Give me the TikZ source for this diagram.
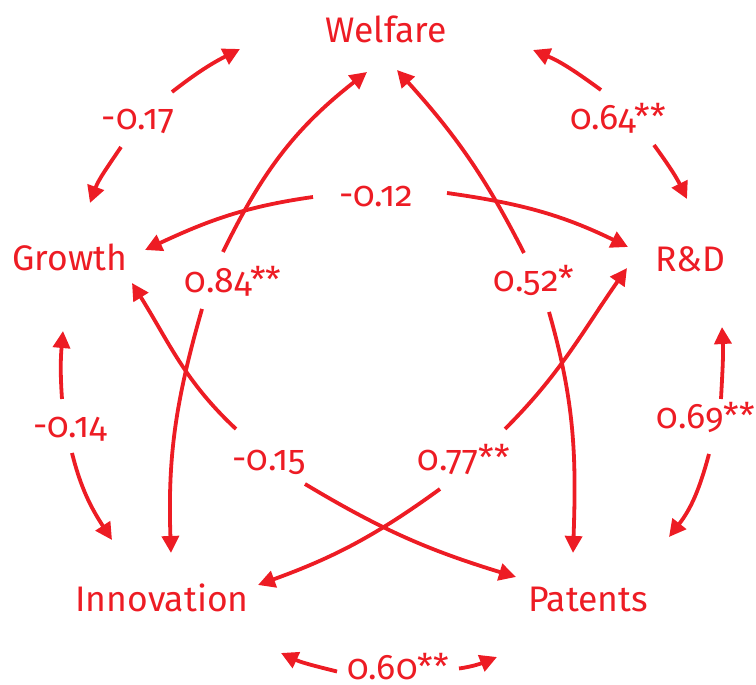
\documentclass[tikz,border=0pt]{standalone}
\usepackage{fontspec}
\setmainfont{Fira Sans}[Numbers=OldStyle]
\usetikzlibrary{arrows.meta}
\definecolor{redA}{HTML}{ED1C24}
\begin{document}
\begin{tikzpicture}[x=1pt,y=1pt,
  txt/.style={text=redA, font=\fontsize{35.5}{38}\selectfont, inner sep=0pt, anchor=base},
  lnk/.style={draw=redA, line width=3.8pt, -{Triangle[length=17pt,width=17pt]}},
]
\useasboundingbox (0,0) rectangle (756,685);
% variables
\node[txt] (W) at (386,642) {Welfare};
\node[txt] (RD) at (690,413) {R\&D};
\node[txt] (G) at (70,414) {Growth};
\node[txt] (I) at (162,73) {Innovation};
\node[txt] (P) at (588,73) {Patents};
% labels
\node[txt] (L017) at (138,555) {-0.17};
\node[txt] (L064) at (618,555) {0.64**};
\node[txt] (L012) at (376,478) {-0.12};
\node[txt] (L084) at (233,392) {0.84**};
\node[txt] (L052) at (534,393) {0.52*};
\node[txt] (L014) at (70,247) {-0.14};
\node[txt] (L069) at (706,256) {0.69**};
\node[txt] (L015) at (269,214) {-0.15};
\node[txt] (L077) at (464,214) {0.77**};
\node[txt, text depth=0pt] (L060) at (398,5) {0.60**};
% Welfare - Growth
\draw[lnk] ([shift={(34,38)}]L017.base) to[out=38,in=207] ([shift={(-146,-6)}]W.base);
\draw[lnk] ([shift={(-17,-17)}]L017.base) to[out=236,in=70] ([shift={(20,68)}]G.base);
% Welfare - R&D
\draw[lnk] ([shift={(-17,40)}]L064.base) to[out=144,in=337] ([shift={(147,-7)}]W.base);
\draw[lnk] ([shift={(36,-15)}]L064.base) to[out=306,in=116] ([shift={(-3,73)}]RD.base);
% Growth - Innovation
\draw[lnk] ([shift={(-8,39)}]L014.base) to[out=94,in=265] ([shift={(-7,-60)}]G.base);
\draw[lnk] ([shift={(2,-15)}]L014.base) to[out=284,in=123] ([shift={(-50,72)}]I.base);
% R&D - Patents
\draw[lnk] ([shift={(15,30)}]L069.base) to[out=87,in=273] ([shift={(32,-55)}]RD.base);
\draw[lnk] ([shift={(3,-25)}]L069.base) to[out=255,in=52] ([shift={(81,75)}]P.base);
% Innovation - Patents
\draw[lnk] ([shift={(-61,8.5)}]L060.base) to[out=166,in=335] ([shift={(119,-41)}]I.base);
\draw[lnk] ([shift={(61,11.5)}]L060.base) to[out=8,in=202] ([shift={(-91,-45)}]P.base);
% Growth - R&D
\draw[lnk] ([shift={(-63,10)}]L012.base) to[out=188,in=25] ([shift={(75,21)}]G.base);
\draw[lnk] ([shift={(71,14)}]L012.base) to[out=352,in=154] ([shift={(-62,25)}]RD.base);
% Welfare - Innovation
\draw[lnk] ([shift={(-10,41)}]L084.base) to[out=64,in=218] ([shift={(-19,-29)}]W.base);
\draw[lnk] ([shift={(-31,-16)}]L084.base) to[out=254,in=92] ([shift={(9,59)}]I.base);
% Welfare - Patents
\draw[lnk] ([shift={(-10,39)}]L052.base) to[out=117,in=312] ([shift={(11,-27)}]W.base);
\draw[lnk] ([shift={(15,-20)}]L052.base) to[out=286,in=88] ([shift={(-15,59)}]P.base);
% Growth - Patents
\draw[lnk] ([shift={(-33,42)}]L015.base) to[out=137,in=302] ([shift={(62,-12)}]G.base);
\draw[lnk] ([shift={(36,-13)}]L015.base) to[out=329,in=163] ([shift={(-72,35)}]P.base);
% R&D - Innovation
\draw[lnk] ([shift={(41,42)}]L077.base) to[out=45,in=235] ([shift={(-63,4)}]RD.base);
\draw[lnk] ([shift={(-24,-18)}]L077.base) to[out=216,in=20] ([shift={(96,27)}]I.base);
\end{tikzpicture}
\end{document}
